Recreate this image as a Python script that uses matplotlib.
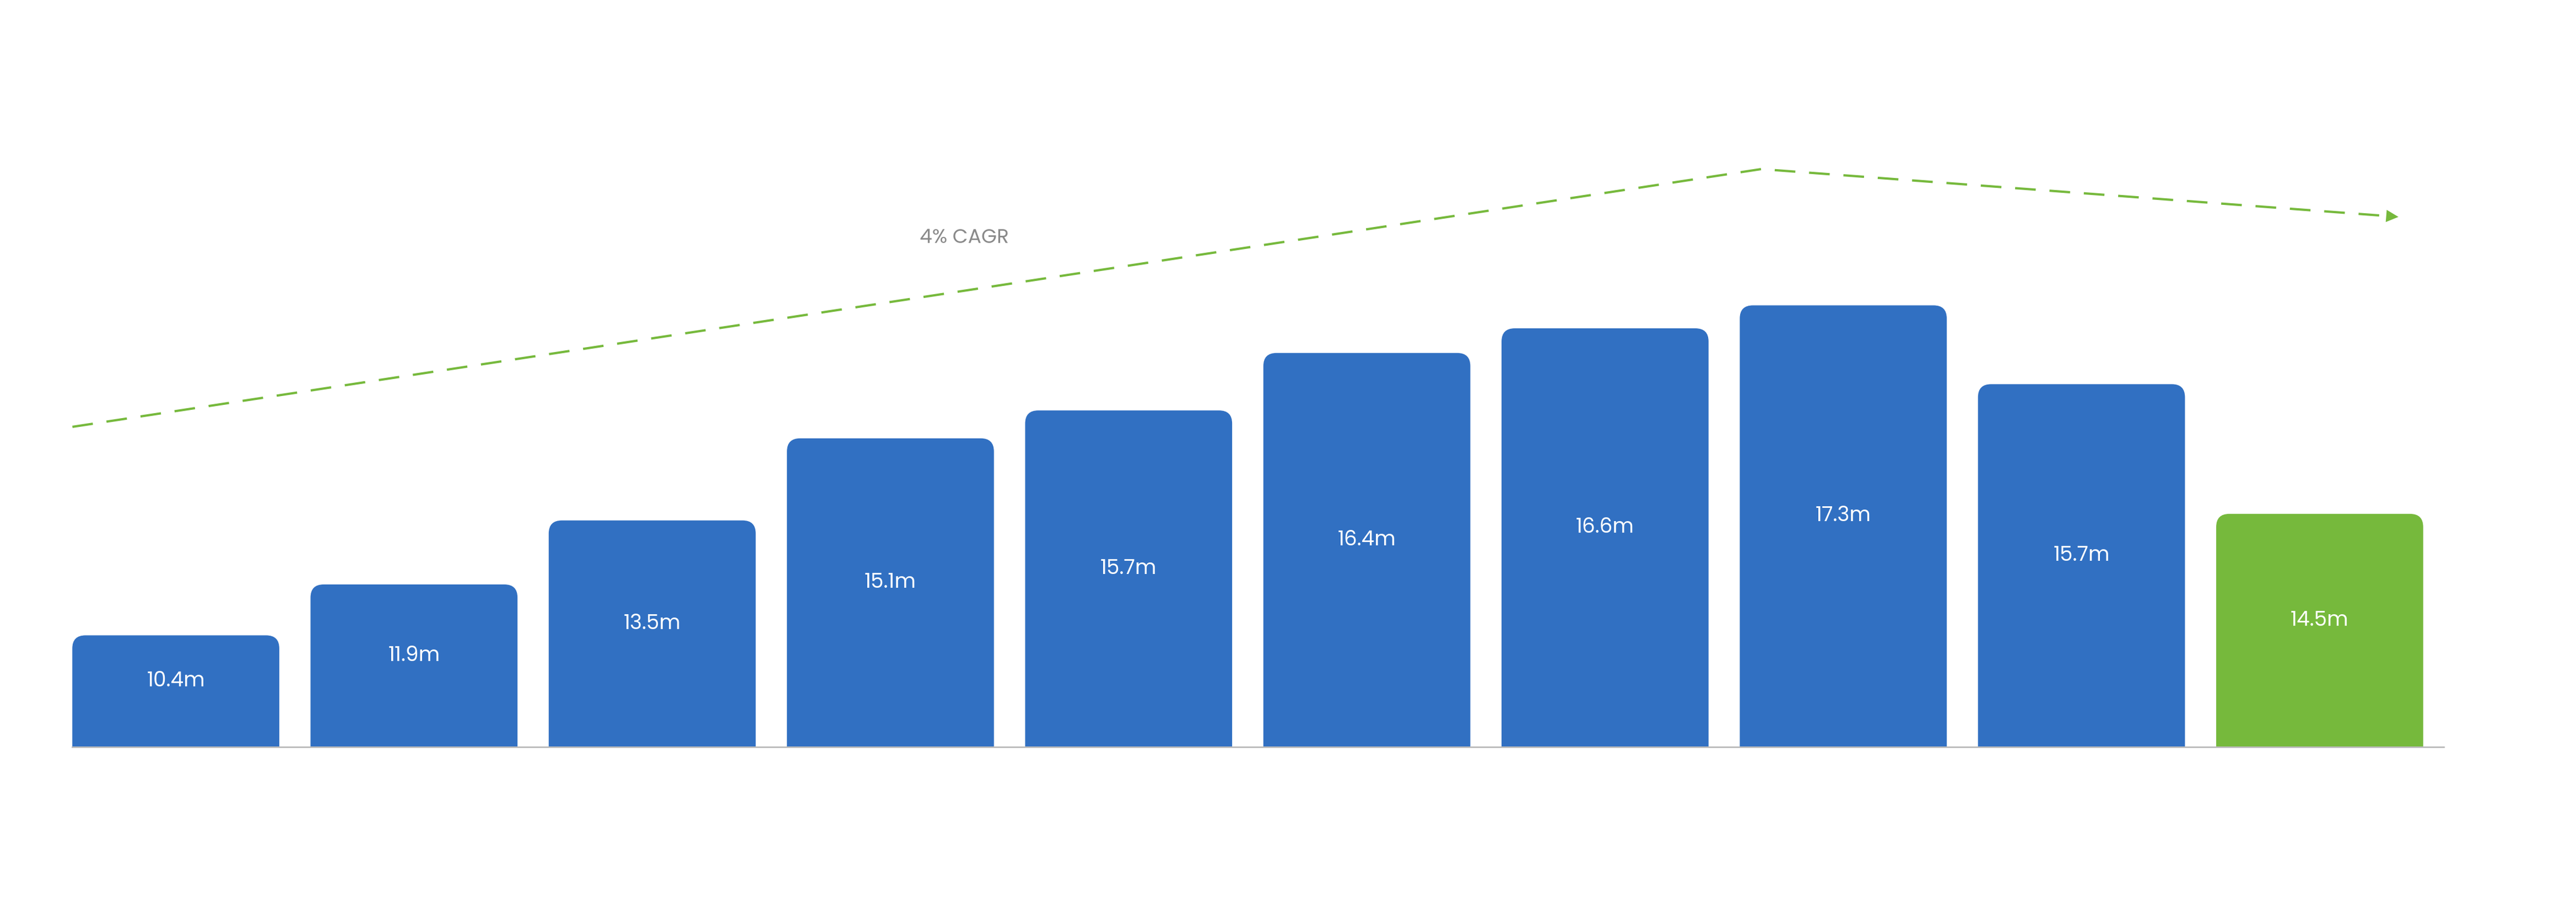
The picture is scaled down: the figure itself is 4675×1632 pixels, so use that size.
import numpy as np
import matplotlib.pyplot as plt
from matplotlib.patches import FancyBboxPatch, Rectangle

years = ['FY16', 'FY17', 'FY18', 'FY19', 'FY20', 'FY21', 'FY22', 'FY23', 'FY24', 'FY25']
labels = ['10.4m', '11.9m', '13.5m', '15.1m', '15.7m', '16.4m', '16.6m', '17.3m', '15.7m', '14.5m']
# bar heights as drawn in the reference (not proportional to the labels)
heights = [68, 99, 138, 188, 205, 240, 255, 269, 221, 142]
trend_x = [-0.434, 6.655, 9.317]
trend_y = [195, 352, 323]

blue = '#3170C2'
green = '#76B93C'
grey = '#8a8a8a'

plt.rcParams['font.family'] = ['Poppins', 'Lato', 'DejaVu Sans']
fig = plt.figure(figsize=(46.75, 16.32), dpi=100)
ax = fig.add_axes([0, 0, 1, 1])
ax.set_xlim(-0.738, 10.076)
ax.set_ylim(-92.6, 455)
ax.axis('off')

w = 0.869
r = 8
for i, (h, lab) in enumerate(zip(heights, labels)):
    c = green if i == len(heights) - 1 else blue
    p = FancyBboxPatch((i - w / 2, -20), w, h + 20,
                       boxstyle='round,pad=0,rounding_size=%f' % (r / 145),
                       mutation_aspect=145, fc=c, ec='none', zorder=2)
    ax.add_patch(p)
    ax.text(i, h / 2 + 6, lab, color='white', fontsize=27, ha='center', va='center', zorder=5)
    ax.text(i, -19, years[i], color=grey, fontsize=27, ha='center', va='center')

ax.add_patch(Rectangle((-1, -92.6), 12, 92.6, fc='white', ec='none', zorder=3))
ax.plot([-0.434, 9.52], [0, 0], color='#bbbbbb', lw=2, zorder=4)

ax.plot(trend_x[:2] + [trend_x[2] - 0.05], trend_y[:2] + [trend_y[2] + 0.6],
        color=green, lw=3, ls=(0, (9, 6)), zorder=1)
ax.annotate('', xy=(trend_x[2] + 0.02, trend_y[2] - 0.2), xytext=(trend_x[2] - 0.05, trend_y[2] + 0.6),
            arrowprops=dict(arrowstyle='-|>,head_length=1.6,head_width=0.8', color=green, lw=0))
ax.text(3.31, 310, '4% CAGR', color=grey, fontsize=26, ha='center', va='center')

plt.savefig('out.png', dpi=100)
